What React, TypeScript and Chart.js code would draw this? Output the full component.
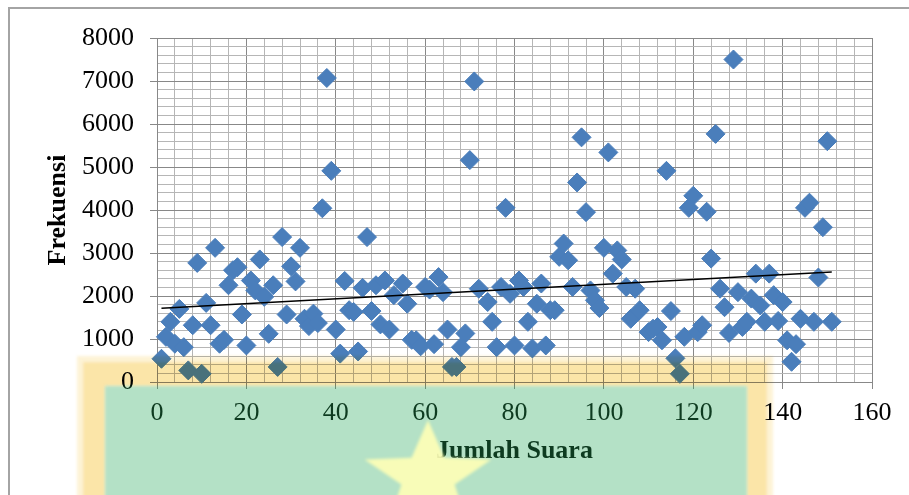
import { useEffect, useRef } from "react";
import { Chart, registerables } from "chart.js";

Chart.register(...registerables);

// Jumlah Suara (x) and Frekuensi (y) for each observation
const jumlahSuara = [
  1, 2, 3, 4, 5, 6, 7, 8, 9, 10, 11, 12, 13, 14, 15, 16, 17, 18, 19, 20,
  21, 22, 23, 24, 25, 26, 27, 28, 29, 30, 31, 32, 33, 34, 35, 36, 37, 38, 39, 40,
  41, 42, 43, 44, 45, 46, 47, 48, 49, 50, 51, 52, 53, 55, 56, 57, 58, 59, 60, 61,
  62, 63, 64, 65, 66, 67, 68, 69, 70, 71, 72, 74, 75, 76, 77, 78, 79, 80, 81, 82,
  83, 84, 85, 86, 87, 88, 89, 90, 91, 92, 93, 94, 95, 96, 97, 98, 99, 100, 101, 102,
  103, 104, 105, 106, 107, 108, 110, 111, 112, 113, 114, 115, 116, 117, 118, 119, 120, 121, 122, 123,
  124, 125, 126, 127, 128, 129, 130, 131, 132, 133, 134, 135, 136, 137, 138, 139, 140, 141, 142, 143,
  144, 145, 146, 147, 148, 149, 150, 151,
];

const frekuensi = [
  540, 1050, 1400, 890, 1700, 810, 270, 1320, 2770, 190, 1840, 1320, 3120, 890, 980, 2250, 2600, 2670, 1570, 850,
  2360, 2130, 2850, 1980, 1120, 2250, 350, 3370, 1570, 2690, 2340, 3120, 1470, 1300, 1590, 1370, 4040, 7070, 4910, 1220,
  660, 2350, 1670, 1630, 710, 2190, 3370, 1650, 2250, 1340, 2360, 1220, 2020, 2290, 1820, 980, 970, 830, 2210, 2150,
  880, 2440, 2090, 1220, 350, 350, 810, 1130, 5160, 6990, 2170, 1860, 1400, 810, 2210, 4050, 2050, 850, 2360, 2210,
  1400, 780, 1820, 2290, 850, 1670, 1670, 2910, 3220, 2830, 2210, 4640, 5690, 3950, 2130, 1900, 1720, 3120, 5340, 2520,
  3060, 2850, 2210, 1470, 2170, 1670, 1160, 1240, 1280, 970, 4910, 1650, 550, 190, 1050, 4050, 4330, 1160, 1320, 3960,
  2870, 5770, 2170, 1740, 1140, 7500, 2090, 1280, 1400, 1940, 2520, 1780, 1400, 2520, 2020, 1420, 1860, 970, 470, 880,
  1470, 4050, 4170, 1400, 2430, 3600, 5600, 1400,
];

// Axis ranges: labelled ticks and the finer grid steps between them
const xTickLabels = [0, 20, 40, 60, 80, 100, 120, 140, 160];
const yTickLabels = [0, 1000, 2000, 3000, 4000, 5000, 6000, 7000, 8000];
const xMinorStep = 4;
const yMinorStep = 200;

const serif = "'Liberation Serif', 'Times New Roman', serif";
const markerBlue = "#4a7ebb";
const majorGrid = "#888888";
const minorGrid = "#b6b6b6";

// Least-squares linear trend through the points
function linearTrend(xs: number[], ys: number[]) {
  const n = xs.length;
  const mx = xs.reduce((s, v) => s + v, 0) / n;
  const my = ys.reduce((s, v) => s + v, 0) / n;
  let sxy = 0;
  let sxx = 0;
  for (let i = 0; i < n; i++) {
    sxy += (xs[i] - mx) * (ys[i] - my);
    sxx += (xs[i] - mx) * (xs[i] - mx);
  }
  const slope = sxy / sxx;
  const intercept = my - slope * mx;
  const x0 = Math.min(...xs);
  const x1 = Math.max(...xs);
  return [
    { x: x0, y: intercept + slope * x0 },
    { x: x1, y: intercept + slope * x1 },
  ];
}

// Outer frame of the chart box
const framePlugin = {
  id: "frame",
  beforeDraw(chart: any) {
    const { ctx, width, height } = chart;
    ctx.save();
    ctx.fillStyle = "#ffffff";
    ctx.fillRect(0, 0, width, height);
    ctx.strokeStyle = "#a4a4a4";
    ctx.lineWidth = 2;
    ctx.strokeRect(9, 8, width + 20, height + 20);
    ctx.restore();
  },
};

function starPath(ctx: CanvasRenderingContext2D, cx: number, cy: number, r: number, inner: number, sx: number) {
  ctx.beginPath();
  for (let i = 0; i < 10; i++) {
    const rad = i % 2 === 0 ? r : r * inner;
    const a = -Math.PI / 2 + (i * Math.PI) / 5;
    const px = cx + Math.cos(a) * rad * sx;
    const py = cy + Math.sin(a) * rad;
    if (i === 0) ctx.moveTo(px, py);
    else ctx.lineTo(px, py);
  }
  ctx.closePath();
}

// Emblem laid over the lower part of the figure
const emblemPlugin = {
  id: "emblem",
  afterDraw(chart: any) {
    const ctx: CanvasRenderingContext2D = chart.ctx;
    ctx.save();
    ctx.globalCompositeOperation = "multiply";
    ctx.filter = "blur(1.5px)";
    ctx.fillStyle = "rgb(253,243,214)";
    ctx.beginPath();
    ctx.rect(77, 356, 696, 160);
    ctx.rect(83, 362, 684, 160);
    ctx.fill("evenodd");
    ctx.fillStyle = "rgb(251,229,168)";
    ctx.beginPath();
    ctx.rect(83, 362, 684, 160);
    ctx.rect(105, 386, 642, 160);
    ctx.fill("evenodd");
    ctx.globalCompositeOperation = "source-over";
    ctx.fillStyle = "rgba(40,170,92,0.35)";
    ctx.fillRect(105, 386, 642, 160);
    ctx.fillStyle = "rgba(255,255,182,0.9)";
    starPath(ctx, 428, 477, 57, 0.42, 1.17);
    ctx.fill();
    ctx.restore();
  },
};

export default function App() {
  const canvasRef = useRef<HTMLCanvasElement | null>(null);

  useEffect(() => {
    const canvas = canvasRef.current;
    if (!canvas) return;
    const points = jumlahSuara.map((x, i) => ({ x, y: frekuensi[i] }));
    const trend = linearTrend(jumlahSuara, frekuensi);
    const xMax = xTickLabels[xTickLabels.length - 1];
    const yMax = yTickLabels[yTickLabels.length - 1];
    const xMajor = xTickLabels[1] - xTickLabels[0];
    const yMajor = yTickLabels[1] - yTickLabels[0];

    const chart = new Chart(canvas, {
      type: "scatter",
      data: {
        datasets: [
          {
            type: "line",
            data: trend,
            borderColor: "#000000",
            borderWidth: 1.5,
            pointRadius: 0,
            showLine: true,
            fill: false,
            order: 0,
          } as any,
          {
            data: points,
            pointStyle: "rectRot",
            pointRadius: 9.5,
            pointBackgroundColor: markerBlue,
            pointBorderColor: markerBlue,
            pointBorderWidth: 1,
            clip: false,
            order: 1,
          } as any,
        ],
      },
      options: {
        responsive: false,
        animation: false,
        devicePixelRatio: 1,
        layout: { padding: { left: 0, top: 38, right: 37, bottom: 0 } },
        plugins: { legend: { display: false }, tooltip: { enabled: false } },
        scales: {
          x: {
            type: "linear",
            min: xTickLabels[0],
            max: xMax,
            afterFit(scale: any) {
              scale.height = 113;
            },
            ticks: {
              stepSize: xMinorStep,
              autoSkip: false,
              maxRotation: 0,
              padding: 9,
              color: "#000000",
              font: { family: serif, size: 26 },
              callback: (v: any) => (Number(v) % xMajor === 0 ? String(v) : ""),
            },
            grid: {
              color: (c: any) => (c.tick && c.tick.value % xMajor === 0 ? majorGrid : minorGrid),
              tickColor: (c: any) => (c.tick && c.tick.value % xMajor === 0 ? majorGrid : "rgba(0,0,0,0)"),
              tickLength: 7,
              lineWidth: 1,
            },
            border: { color: majorGrid, width: 1 },
            title: {
              display: true,
              text: "Jumlah Suara",
              color: "#000000",
              font: { family: serif, size: 26, weight: "bold" },
              padding: { top: 0, bottom: 28 },
            },
          },
          y: {
            type: "linear",
            min: yTickLabels[0],
            max: yMax,
            afterFit(scale: any) {
              scale.width = 157;
            },
            ticks: {
              stepSize: yMinorStep,
              autoSkip: false,
              padding: 16,
              color: "#000000",
              font: { family: serif, size: 26 },
              callback: (v: any) => (Number(v) % yMajor === 0 ? String(v) : ""),
            },
            grid: {
              color: (c: any) => (c.tick && c.tick.value % yMajor === 0 ? majorGrid : minorGrid),
              tickColor: (c: any) => (c.tick && c.tick.value % yMajor === 0 ? majorGrid : "rgba(0,0,0,0)"),
              tickLength: 7,
              lineWidth: 1,
            },
            border: { color: majorGrid, width: 1 },
            title: {
              display: true,
              text: "Frekuensi",
              color: "#000000",
              font: { family: serif, size: 26, weight: "bold" },
              padding: { top: 43, bottom: 0 },
            },
          },
        },
      },
      plugins: [framePlugin, emblemPlugin],
    });

    return () => chart.destroy();
  }, []);

  return (
    <div style={{ position: "fixed", left: 0, top: 0, width: 909, height: 495, overflow: "hidden" }}>
      <canvas ref={canvasRef} width={909} height={495} style={{ width: 909, height: 495, display: "block" }} />
    </div>
  );
}
